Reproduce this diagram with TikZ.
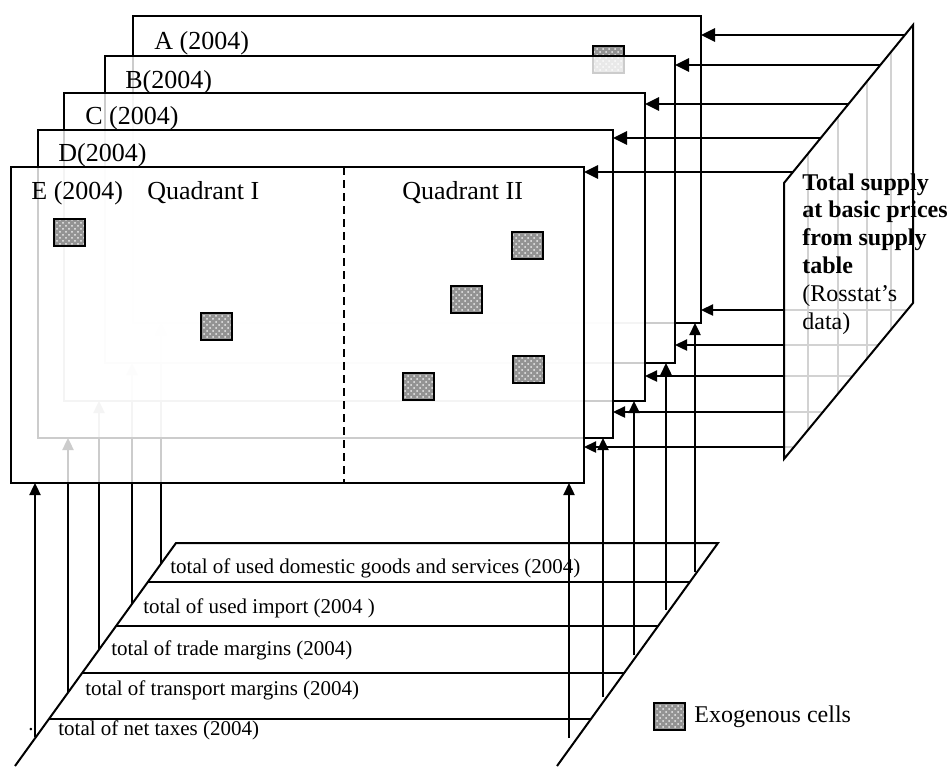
\documentclass[tikz,border=0pt]{standalone}
\usepackage{fontspec}
\setmainfont{Liberation Serif}
\usetikzlibrary{arrows.meta, positioning, patterns, calc}

\begin{document}
\begin{tikzpicture}[
    x=0.5pt, y=-0.5pt,
    sheet/.style={
        rectangle, draw=black, line width=1pt,
        fill=white, fill opacity=0.8, draw opacity=1,
        inner sep=0pt, outer sep=0pt
    },
    exo/.style={
        rectangle, draw=black, line width=1pt,
        fill=gray!85, inner sep=0pt,
        minimum width=15.5pt, minimum height=13.5pt,
        path picture={
            \fill[pattern=crosshatch dots, pattern color=gray!15]
                (path picture bounding box.south west) rectangle
                (path picture bounding box.north east);
        }
    },
    lbl/.style={font=\fontsize{13}{15}\selectfont, anchor=west, inner sep=0pt},
    rowlbl/.style={font=\fontsize{10.5}{12}\selectfont, anchor=west, inner sep=0pt},
    arrow/.style={-{Triangle[length=6pt, width=5.5pt]}, line width=1.2pt},
    toparrow/.style={-{Triangle[length=7pt, width=6.5pt]}, line width=1.4pt},
    gridline/.style={gray!35, line width=1pt},
]
\useasboundingbox (0,0) rectangle (947,766);

% Floor plane
\coordinate (fTL) at (176,543);
\coordinate (fTR) at (718,543);
\coordinate (fBL) at (15,766);
\coordinate (fBR) at (557,766);
\draw[line width=1pt] (fBL) -- (fTL) -- (fTR) -- (fBR);
\foreach \t in {0.175, 0.372, 0.583, 0.789}
    \draw[line width=1pt] ($(fTL)!\t!(fBL)$) -- ($(fTR)!\t!(fBR)$);

\node[rowlbl] (row1) at (170,568) {total of used domestic goods and services (2004)};
\node[rowlbl] (row2) at (143,608) {total of used import (2004 )};
\node[rowlbl] (row3) at (111,650) {total of trade margins (2004)};
\node[rowlbl] (row4) at (85,690)  {total of transport margins (2004)};
\node[rowlbl] (row5) at (58,730)  {total of net taxes (2004)};
\node[rowlbl] (dot)  at (28,730)  {.};

% Supply plane
\coordinate (sTL) at (784,183);
\coordinate (sTR) at (913,25);
\coordinate (sBR) at (913,303);
\coordinate (sBL) at (784,459);
\begin{scope}
    \clip (sBL) -- (sTL) -- (sTR) -- (sBR) -- cycle;
    \foreach \y in {310, 345, 376, 412, 447}
        \draw[gridline] (784,\y) -- (913,\y);
    \foreach \x in {808, 838, 867, 891}
        \draw[gridline] (\x,0) -- (\x,766);
\end{scope}
\draw[line width=1pt] (sBL) -- (sTL) -- (sTR) -- (sBR) -- cycle;

\node[font=\fontsize{12}{13.9}\selectfont, anchor=north west, align=left, inner sep=0pt]
    (supply) at (802,173)
    {\textbf{Total supply}\\ \textbf{at basic prices}\\ \textbf{from supply}\\
     \textbf{table}\\ (Rosstat’s\\ data)};

% Sheets, back to front
\node[sheet, minimum width=284pt, minimum height=153.5pt] (shA) at (417,169.5) {};
\node[lbl] (labA) at (154,43) {A (2004)};
\node[exo] (cellA) at (608.5,59) {};
\coordinate (inA) at (161,564);
\draw[arrow] (inA) -- (inA |- shA.south);

\node[sheet, minimum width=285pt, minimum height=153.5pt] (shB) at (390,209.5) {};
\node[lbl] (labB) at (125,82) {B(2004)};
\coordinate (inB) at (132,604);
\draw[arrow] (inB) -- (inB |- shB.south);

\node[sheet, minimum width=290.5pt, minimum height=154pt] (shC) at (354.5,247) {};
\node[lbl] (labC) at (85,118) {C (2004)};
\coordinate (inC) at (99,650);
\draw[arrow] (inC) -- (inC |- shC.south);

\node[sheet, minimum width=287.5pt, minimum height=154pt] (shD) at (325.5,284) {};
\node[lbl] (labD) at (58,155) {D(2004)};
\coordinate (inD) at (68,693);
\draw[arrow] (inD) -- (inD |- shD.south);

\node[sheet, minimum width=286.5pt, minimum height=158pt] (shE) at (297.5,325) {};
\node[lbl] (labE) at (31,193) {E (2004)};
\node[lbl] (q1) at (147,193) {Quadrant I};
\node[lbl] (q2) at (402,193) {Quadrant II};
\coordinate (mid) at (344,167);
\draw[line width=1pt, dash pattern=on 4pt off 2.5pt] (shE.north -| mid) -- (shE.south -| mid);
\coordinate (inE) at (35,737);
\draw[arrow] (inE) -- (inE |- shE.south);

% Exogenous cells
\node[exo] (e1) at (69,232.5) {};
\node[exo] (e2) at (216,326) {};
\node[exo] (e3) at (466,299) {};
\node[exo] (e4) at (418,386) {};
\node[exo] (e5) at (527,245) {};
\node[exo] (e6) at (528,369) {};

%% From supply plane (top)
\coordinate (tA) at (905,35);
\coordinate (tB) at (880,65);
\coordinate (tC) at (848.5,104);
\coordinate (tD) at (821,138);
\coordinate (tE) at (793,172);
\draw[toparrow] (tA) -- (tA -| shA.east);
\draw[toparrow] (tB) -- (tB -| shB.east);
\draw[toparrow] (tC) -- (tC -| shC.east);
\draw[toparrow] (tD) -- (tD -| shD.east);
\draw[toparrow] (tE) -- (tE -| shE.east);

%% From supply plane (bottom)
\coordinate (rA) at (784,310);
\coordinate (rB) at (784,345);
\coordinate (rC) at (784,376);
\coordinate (rD) at (784,412);
\coordinate (rE) at (784,447);
\draw[arrow] (rA) -- (rA -| shA.east);
\draw[arrow] (rB) -- (rB -| shB.east);
\draw[arrow] (rC) -- (rC -| shC.east);
\draw[arrow] (rD) -- (rD -| shD.east);
\draw[arrow] (rE) -- (rE -| shE.east);

%% From floor (right)
\coordinate (bA) at (695,572);
\coordinate (bB) at (666,610);
\coordinate (bC) at (634,655);
\coordinate (bD) at (603,697);
\coordinate (bE) at (569,738);
\draw[arrow] (bA) -- (bA |- shA.south);
\draw[arrow] (bB) -- (bB |- shB.south);
\draw[arrow] (bC) -- (bC |- shC.south);
\draw[arrow] (bD) -- (bD |- shD.south);
\draw[arrow] (bE) -- (bE |- shE.south);

% Legend
\node[exo] (legcell) at (669.5,716.5) {};
\node[lbl, font=\fontsize{12}{14}\selectfont, right=4pt of legcell] (legtext) {Exogenous cells};

\end{tikzpicture}
\end{document}
